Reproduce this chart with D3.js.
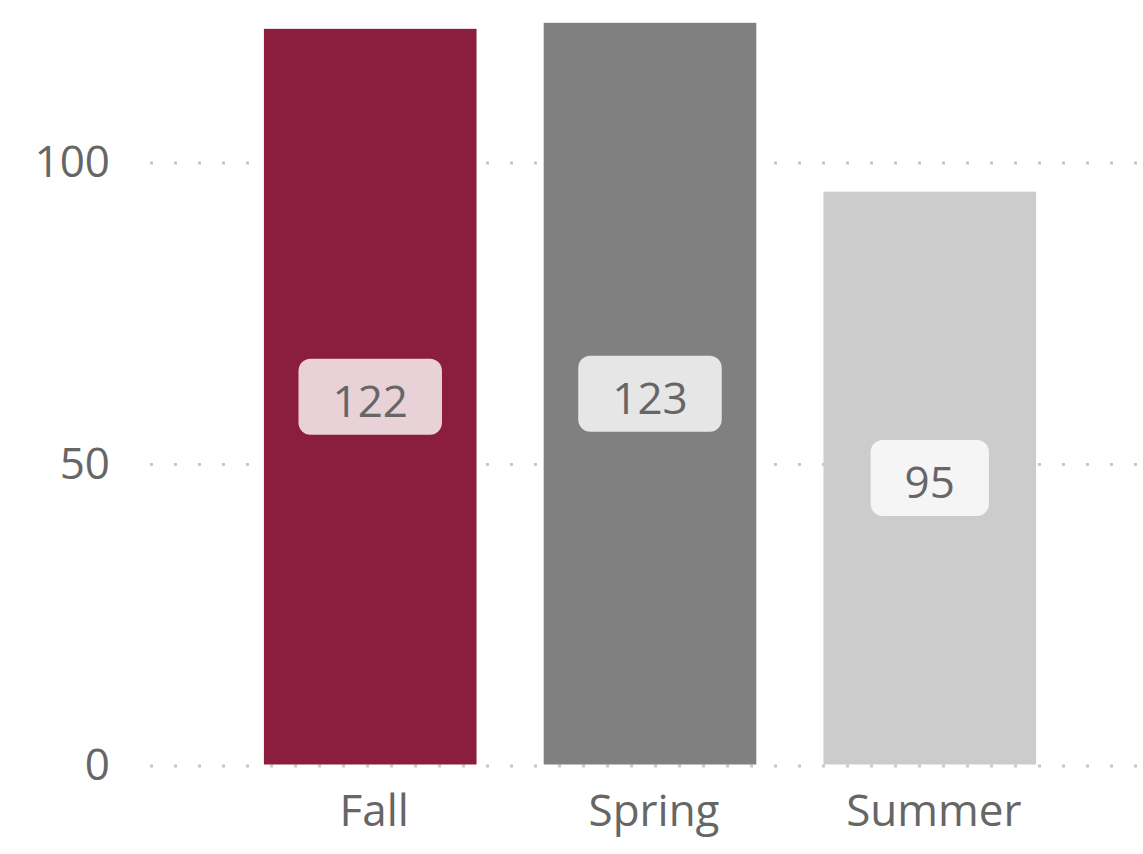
<!DOCTYPE html>
<html>
<head>
<meta charset="utf-8">
<script src="https://cdn.jsdelivr.net/npm/d3@7"></script>
<style>
  html, body { margin: 0; padding: 0; background: #fff; }
  svg { display: block; }
  text { font-family: "Segoe UI", "Open Sans", "Noto Sans", sans-serif; fill: #666; }
</style>
</head>
<body>
<svg id="chart" width="1143" height="854"></svg>
<script>
// Counts per term
const categories = ["Fall", "Spring", "Summer"];
const values = [122, 123, 95];
const colors = ["#8B1E3F", "#808080", "#CCCCCC"];
const yTicks = [0, 50, 100];

const W = 1143, H = 854;
const FONT = 44;
const svg = d3.select("#chart");

const x = d3.scaleBand()
  .domain(categories)
  .range([152, 1148])
  .paddingInner(0.24)
  .paddingOuter(0.4);

const y = d3.scaleLinear()
  .domain([0, 100])
  .range([764.5, 161.5]);

// Dotted gridlines behind the bars
svg.append("g")
  .selectAll("line")
  .data(yTicks)
  .join("line")
  .attr("x1", 150)
  .attr("x2", W)
  .attr("y1", d => y(d) + 1.5)
  .attr("y2", d => y(d) + 1.5)
  .attr("stroke", "#c8c8c8")
  .attr("stroke-width", 3)
  .attr("stroke-dasharray", "3 21");

// Y axis labels
const yAxis = d3.axisLeft(y).tickValues(yTicks).tickSize(0).tickPadding(0);
svg.append("g")
  .attr("transform", "translate(110,1)")
  .call(yAxis)
  .call(g => g.select(".domain").remove())
  .call(g => g.selectAll("text")
    .attr("font-size", FONT)
    .attr("fill", "#666")
    .attr("font-family", null));

// Bars
const data = categories.map((c, i) => ({ cat: c, value: values[i], color: colors[i] }));
svg.append("g")
  .selectAll("rect")
  .data(data)
  .join("rect")
  .attr("x", d => x(d.cat))
  .attr("width", x.bandwidth())
  .attr("y", d => y(d.value))
  .attr("height", d => y(0) - y(d.value))
  .attr("fill", d => d.color);

// Value labels in rounded boxes at the middle of each bar
const labels = svg.append("g")
  .selectAll("g")
  .data(data)
  .join("g")
  .attr("transform", d => `translate(${x(d.cat) + x.bandwidth() / 2},${(y(d.value) + y(0)) / 2})`);

labels.append("rect")
  .attr("fill", "#fff")
  .attr("fill-opacity", 0.8)
  .attr("rx", 12)
  .attr("ry", 12);

labels.append("text")
  .attr("text-anchor", "middle")
  .attr("y", 5)
  .attr("dy", "0.35em")
  .attr("font-size", FONT)
  .text(d => d.value);

labels.each(function () {
  const g = d3.select(this);
  const w = g.select("text").node().getComputedTextLength();
  const bw = w + 68, bh = 76;
  g.select("rect")
    .attr("x", -bw / 2)
    .attr("y", -bh / 2)
    .attr("width", bw)
    .attr("height", bh);
});

// Category axis
const xAxis = d3.axisBottom(x).tickSize(0).tickPadding(0);
svg.append("g")
  .attr("transform", "translate(4,811)")
  .call(xAxis)
  .call(g => g.select(".domain").remove())
  .call(g => g.selectAll("text")
    .attr("font-size", FONT)
    .attr("fill", "#666")
    .attr("dy", "0.35em")
    .attr("font-family", null));
</script>
</body>
</html>
